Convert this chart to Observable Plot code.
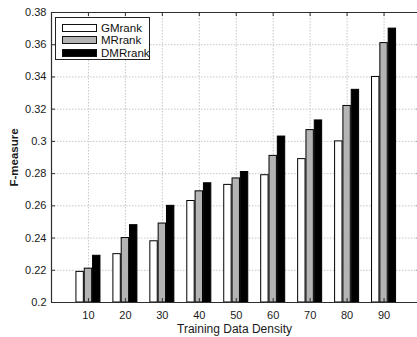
<!DOCTYPE html>
<html>
<head>
<meta charset="utf-8">
<script src="https://cdn.jsdelivr.net/npm/d3@7"></script>
<script src="https://cdn.jsdelivr.net/npm/@observablehq/plot@0.6"></script>
<style>
  html, body { margin: 0; padding: 0; background: #fff; }
  #wrap { position: relative; width: 417px; height: 337px; overflow: hidden; }
  #legend { position: absolute; left: 55px; top: 17px; width: 95px; height: 43px; box-sizing: border-box;
    border: 1px solid #222; background: #fff; font: 11.5px "Liberation Sans", Arial, sans-serif; color: #111; }
  .row { position: absolute; left: 6px; height: 9px; display: flex; align-items: center; }
  .sw { width: 35px; height: 8px; border: 1px solid #111; box-sizing: border-box; margin-right: 4px; }
</style>
</head>
<body>
<div id="wrap"></div>
<script>
const densities = [10, 20, 30, 40, 50, 60, 70, 80, 90];
const gmrank = [0.219, 0.230, 0.238, 0.263, 0.273, 0.279, 0.289, 0.300, 0.340];
const mrank  = [0.221, 0.240, 0.249, 0.269, 0.277, 0.291, 0.307, 0.322, 0.361];
const dmrank = [0.229, 0.248, 0.260, 0.274, 0.281, 0.303, 0.313, 0.332, 0.370];
const seriesLabels = ["GMrank", "MRrank", "DMRrank"];
const seriesColors = ["#ffffff", "#b4b4b4", "#000000"];
const yTicks = [0.2, 0.22, 0.24, 0.26, 0.28, 0.3, 0.32, 0.34, 0.36, 0.38];
const xTicks = densities;

const offsets = [-2.25, 0, 2.25];
const halfW = 1.0;
const seriesValues = [gmrank, mrank, dmrank];
const bars = [];
seriesValues.forEach((vals, s) => {
  densities.forEach((d, i) => bars.push({x: d, s, off: offsets[s], v: vals[i], fill: seriesColors[s]}));
});

const grid = {stroke: "#b8b8b8", strokeDasharray: "1.5,1.5", strokeWidth: 0.8};
const frameC = "#2e2e2e";

const chart = Plot.plot({
  width: 417,
  height: 337,
  marginLeft: 51,
  marginRight: 0,
  marginTop: 12,
  marginBottom: 35,
  style: {fontFamily: "'Liberation Sans', Arial, sans-serif", fontSize: "11px", background: "#fff", color: "#1a1a1a"},
  x: {domain: [0, 100], range: [51, 420.5]},
  y: {domain: [0.2, 0.38]},
  marks: [
    Plot.ruleY(yTicks.slice(1, -1), {...grid}),
    Plot.ruleX(xTicks, {...grid}),
    Plot.rect(bars, {
      x1: d => d.x + d.off - halfW,
      x2: d => d.x + d.off + halfW,
      y1: 0.2,
      y2: "v",
      fill: "fill",
      stroke: "#000",
      strokeWidth: 1
    }),
    Plot.ruleX([0, 100], {stroke: frameC, strokeWidth: 1.2}),
    Plot.ruleY([0.2, 0.38], {stroke: frameC, strokeWidth: 1.2}),
    Plot.ruleY(yTicks, {x1: 0, x2: 0, insetRight: -4, stroke: frameC}),
    Plot.ruleY(yTicks, {x1: 100, x2: 100, insetLeft: -4, stroke: frameC}),
    Plot.ruleX(xTicks, {y1: 0.2, y2: 0.2, insetTop: -4, stroke: frameC}),
    Plot.ruleX(xTicks, {y1: 0.38, y2: 0.38, insetBottom: -4, stroke: frameC}),
    Plot.axisY(yTicks, {tickSize: 0, tickPadding: 5, tickFormat: d => String(+d.toFixed(2)),
      label: "F-measure", labelAnchor: "center", labelOffset: 42, labelArrow: "none", fontSize: 11}),
    Plot.axisX(xTicks, {tickSize: 0, tickPadding: 9, tickFormat: d => String(d),
      label: "Training Data Density", labelAnchor: "center", labelOffset: 30, labelArrow: "none", fontSize: 11})
  ]
});

const wrap = document.getElementById("wrap");
wrap.appendChild(chart);

chart.querySelectorAll("text").forEach(t => {
  if (t.textContent === "Training Data Density") t.setAttribute("font-size", "12");
  if (t.textContent === "F-measure") { t.setAttribute("font-size", "11.5"); t.setAttribute("font-weight", "bold"); }
});

const legend = document.createElement("div");
legend.id = "legend";
seriesLabels.forEach((name, i) => {
  const row = document.createElement("div");
  row.className = "row";
  row.style.top = (5 + i * 12.5) + "px";
  const sw = document.createElement("div");
  sw.className = "sw";
  sw.style.background = seriesColors[i];
  const tx = document.createElement("span");
  tx.textContent = name;
  row.appendChild(sw);
  row.appendChild(tx);
  legend.appendChild(row);
});
wrap.appendChild(legend);
</script>
</body>
</html>
